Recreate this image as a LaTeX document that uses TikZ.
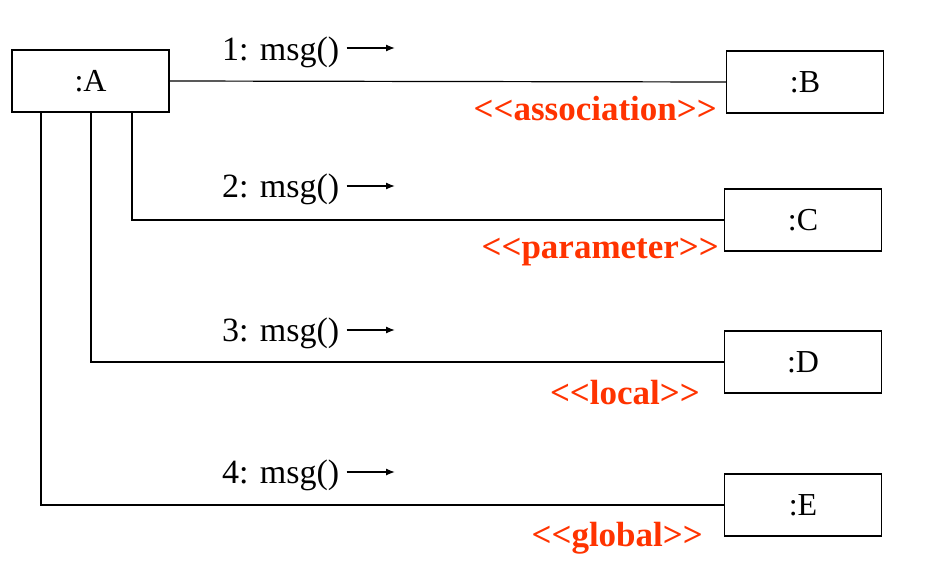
\documentclass[tikz,border=0pt]{standalone}
\usepackage{fontspec}
\setmainfont{Liberation Serif}
\usetikzlibrary{arrows.meta}
\definecolor{stereo}{RGB}{255,51,0}
\newcommand{\lt}{<\kern0pt}
\newcommand{\gt}{>\kern0pt}
\begin{document}
\begin{tikzpicture}[x=1pt,y=-1pt,
  obj/.style={draw,line width=1.2pt,minimum width=157pt,minimum height=62pt,inner sep=0pt,font=\fontsize{32}{34}\selectfont},
  link/.style={line width=1.2pt},
  msglabel/.style={anchor=base west,inner sep=0pt,font=\fontsize{34}{36}\selectfont},
  msgarrow/.style={line width=1.3pt,-{Latex[length=9pt,width=7pt]}},
  stlabel/.style={anchor=base east,inner sep=0pt,text=stereo,font=\fontsize{35}{38}\selectfont\bfseries}]
\useasboundingbox (0,0) rectangle (932,578);
\node[obj] (A) at (90.5,81) {:A};
\node[obj] (B) at (805,82) {:B};
\node[obj] (C) at (803,220) {:C};
\node[obj] (D) at (803,362) {:D};
\node[obj] (E) at (803,505) {:E};
\draw[link] (A.east) -- (B.west);
\draw[link] ([xshift=41.5pt]A.south) |- (C.west);
\draw[link] ([xshift=0.5pt]A.south) |- (D.west);
\draw[link] ([xshift=-49.5pt]A.south) |- (E.west);
\node[msglabel] (m1) at (222,61) {1: msg()};
\node[msglabel] (m2) at (222,197) {2: msg()};
\node[msglabel] (m3) at (222,341) {3: msg()};
\node[msglabel] (m4) at (222,483) {4: msg()};
\coordinate (e1) at (395,48);
\coordinate (e2) at (395,186);
\coordinate (e3) at (395,330);
\coordinate (e4) at (395,472);
\draw[msgarrow] (e1 -| m1.east) ++(7,0) -- (e1);
\draw[msgarrow] (e2 -| m2.east) ++(7,0) -- (e2);
\draw[msgarrow] (e3 -| m3.east) ++(7,0) -- (e3);
\draw[msgarrow] (e4 -| m4.east) ++(7,0) -- (e4);
\node[stlabel] (s1) at (717,120) {\lt\lt association\gt\gt};
\node[stlabel] (s2) at (719,258) {\lt\lt parameter\gt\gt};
\node[stlabel] (s3) at (700,404) {\lt\lt local\gt\gt};
\node[stlabel] (s4) at (703,546) {\lt\lt global\gt\gt};
\end{tikzpicture}
\end{document}
